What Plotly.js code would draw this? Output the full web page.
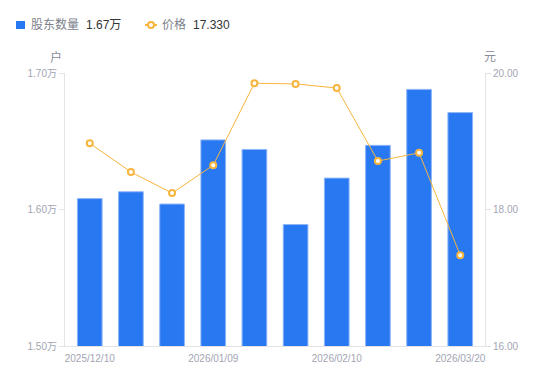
<!DOCTYPE html>
<html>
<head>
<meta charset="utf-8">
<script src="https://cdn.plot.ly/plotly-3.0.1.min.js"></script>
<style>html,body{margin:0;padding:0;background:#fff;}#chart{width:550px;height:381px;}</style>
</head>
<body>
<div id="chart"></div>
<script>
const dates = ["2025/12/10","2025/12/19","2025/12/31","2026/01/09","2026/01/20","2026/01/30","2026/02/10","2026/02/27","2026/03/10","2026/03/20"];
const holders = [1.608, 1.613, 1.604, 1.651, 1.644, 1.589, 1.623, 1.647, 1.688, 1.671];
const prices = [18.97, 18.55, 18.24, 18.65, 19.85, 19.84, 19.78, 18.71, 18.83, 17.33];
const shownDates = ["2025/12/10","2026/01/09","2026/02/10","2026/03/20"];
const leftTicks = [1.50, 1.60, 1.70];
const leftTickText = ["1.50万","1.60万","1.70万"];
const rightTicks = [16, 18, 20];
const legendNames = ["股东数量", "价格"];
const legendValues = ["1.67万", "17.330"];

const FONT = "Liberation Sans, Arial, Noto Sans CJK SC, sans-serif";
const tickGrey = "#a3a5b3";
const barColor = "#2878f2";
const lineColor = "#f7b53e";

const M = {l: 65, r: 65, t: 73, b: 35};
const W = 550, H = 381;
const PW = W - M.l - M.r, PH = H - M.t - M.b;
const px = x => (x - M.l) / PW;
const py = y => (H - M.b - y) / PH;

const traces = [
  {
    type: "bar", x: dates, y: holders, yaxis: "y", name: legendNames[0],
    marker: {color: barColor, line: {color: "#8fb6f7", width: 1}},
    width: 0.6
  },
  {
    type: "scatter", mode: "lines+markers", x: dates, y: prices, yaxis: "y2", name: legendNames[1],
    line: {color: lineColor, width: 1},
    marker: {symbol: "circle", size: 6, color: "#ffffff", line: {color: lineColor, width: 2}}
  }
];

const legendLabel = (text, x, color) => ({
  text: text, xref: "paper", yref: "paper", x: px(x), y: py(25), xanchor: "left", yanchor: "middle",
  showarrow: false, font: {size: 12, color: color, family: FONT}
});

const layout = {
  width: W, height: H,
  margin: {l: M.l, r: M.r, t: M.t, b: M.b, autoexpand: false},
  paper_bgcolor: "#fff", plot_bgcolor: "#fff",
  font: {family: FONT, size: 10, color: tickGrey},
  showlegend: false,
  bargap: 0.4,
  xaxis: {
    type: "category", tickmode: "array", tickvals: shownDates, ticktext: shownDates,
    showgrid: false, showline: true, linecolor: "#e3e3e6", linewidth: 1,
    ticks: "", tickfont: {size: 10, color: tickGrey}, zeroline: false, ticklabelstandoff: 3
  },
  yaxis: {
    range: [1.50, 1.70], tickmode: "array", tickvals: leftTicks, ticktext: leftTickText,
    showgrid: false, showline: true, linecolor: "#e3e3e6", linewidth: 1,
    ticks: "outside", ticklen: 5, tickcolor: "#e3e3e6",
    tickfont: {size: 10, color: tickGrey}, zeroline: false
  },
  yaxis2: {
    range: [16, 20], overlaying: "y", side: "right", tickmode: "array", tickvals: rightTicks,
    tickformat: ".2f",
    showgrid: false, showline: true, linecolor: "#e3e3e6", linewidth: 1,
    ticks: "outside", ticklen: 5, tickcolor: "#e3e3e6",
    tickfont: {size: 10, color: tickGrey}, zeroline: false
  },
  shapes: [
    {type: "rect", xref: "paper", yref: "paper", x0: px(16), x1: px(25), y0: py(21), y1: py(29),
     fillcolor: barColor, line: {width: 0}},
    {type: "line", xref: "paper", yref: "paper", x0: px(145), x1: px(157), y0: py(25), y1: py(25),
     line: {color: lineColor, width: 2}},
    {type: "circle", xref: "paper", yref: "paper", x0: px(148), x1: px(154), y0: py(28), y1: py(22),
     fillcolor: "#ffffff", line: {color: lineColor, width: 2}}
  ],
  annotations: [
    legendLabel(legendNames[0], 29, "#7d7f8c"),
    legendLabel(legendValues[0], 84, "#333333"),
    legendLabel(legendNames[1], 160, "#7d7f8c"),
    legendLabel(legendValues[1], 191, "#333333"),
    {text: "户", xref: "paper", yref: "paper", x: px(56), y: py(57), xanchor: "center", yanchor: "middle",
     showarrow: false, font: {size: 12, color: "#8a8c98"}},
    {text: "元", xref: "paper", yref: "paper", x: px(490), y: py(57), xanchor: "center", yanchor: "middle",
     showarrow: false, font: {size: 12, color: "#8a8c98"}}
  ]
};

Plotly.newPlot("chart", traces, layout, {displayModeBar: false, staticPlot: true});
</script>
</body>
</html>
